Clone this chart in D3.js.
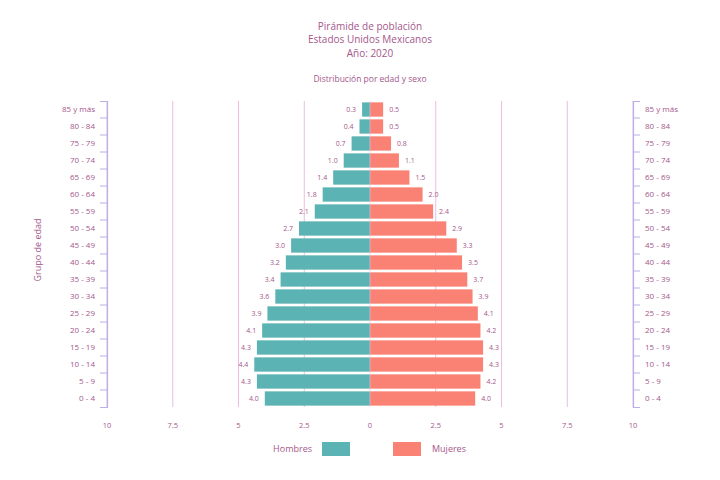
<!DOCTYPE html>
<html>
<head>
<meta charset="utf-8">
<script src="https://cdn.jsdelivr.net/npm/d3@7"></script>
<style>
  body { margin: 0; background: #fff; }
  text { font-family: "Open Sans", sans-serif; fill: #a5578a; }
</style>
</head>
<body>
<svg id="chart" width="720" height="480"></svg>
<script>
// age groups, top to bottom
const groups = ["85 y más", "80 - 84", "75 - 79", "70 - 74", "65 - 69", "60 - 64", "55 - 59",
  "50 - 54", "45 - 49", "40 - 44", "35 - 39", "30 - 34", "25 - 29", "20 - 24", "15 - 19",
  "10 - 14", "5 - 9", "0 - 4"];
const hombres = [0.3, 0.4, 0.7, 1.0, 1.4, 1.8, 2.1, 2.7, 3.0, 3.2, 3.4, 3.6, 3.9, 4.1, 4.3, 4.4, 4.3, 4.0];
const mujeres = [0.5, 0.5, 0.8, 1.1, 1.5, 2.0, 2.4, 2.9, 3.3, 3.5, 3.7, 3.9, 4.1, 4.2, 4.3, 4.3, 4.2, 4.0];
const xTicks = [-10, -7.5, -5, -2.5, 0, 2.5, 5, 7.5, 10];

const colH = "#5cb3b3", colM = "#fa8274";
const svg = d3.select("#chart");
const fmt = d3.format(".1f");

const x = d3.scaleLinear().domain([-10, 10]).range([107, 633]);
const y = d3.scaleBand().domain(groups).range([101, 407]).paddingInner(0.16).paddingOuter(0.08);

/* ------- TITLES -------*/
const titles = [["Pirámide de población", 30], ["Estados Unidos Mexicanos", 43], ["Año: 2020", 57]];
svg.selectAll("text.title").data(titles).enter().append("text")
  .attr("class", "title")
  .attr("x", 370).attr("y", d => d[1])
  .attr("text-anchor", "middle")
  .attr("font-size", 10)
  .text(d => d[0]);
svg.append("text").attr("x", 370).attr("y", 82).attr("text-anchor", "middle")
  .attr("font-size", 8.5).text("Distribución por edad y sexo");

/* ------- GRID -------*/
svg.append("g").selectAll("line").data(xTicks.filter(d => d !== 0)).enter().append("line")
  .attr("x1", d => x(d)).attr("x2", d => x(d))
  .attr("y1", 101).attr("y2", 407)
  .attr("stroke", "#ecbde0").attr("stroke-width", 1);

/* ------- BARS -------*/
const rows = groups.map((g, i) => ({ g, h: hombres[i], m: mujeres[i] }));

svg.append("g").selectAll("rect").data(rows).enter().append("rect")
  .attr("x", d => x(-d.h)).attr("width", d => x(0) - x(-d.h))
  .attr("y", d => y(d.g)).attr("height", y.bandwidth())
  .attr("fill", colH);
svg.append("g").selectAll("rect").data(rows).enter().append("rect")
  .attr("x", x(0)).attr("width", d => x(d.m) - x(0))
  .attr("y", d => y(d.g)).attr("height", y.bandwidth())
  .attr("fill", colM);

svg.append("line").attr("x1", x(0)).attr("x2", x(0)).attr("y1", 101).attr("y2", 407)
  .attr("stroke", "#ecbde0").attr("stroke-opacity", 0.6);

/* ------- VALUE LABELS -------*/
svg.append("g").selectAll("text").data(rows).enter().append("text")
  .attr("x", d => x(-d.h) - 6).attr("y", d => y(d.g) + y.bandwidth() / 2)
  .attr("dy", "0.35em").attr("text-anchor", "end").attr("font-size", 7)
  .text(d => fmt(d.h));
svg.append("g").selectAll("text").data(rows).enter().append("text")
  .attr("x", d => x(d.m) + 6).attr("y", d => y(d.g) + y.bandwidth() / 2)
  .attr("dy", "0.35em").attr("text-anchor", "start").attr("font-size", 7)
  .text(d => fmt(d.m));

/* ------- AXES -------*/
function styleAxis(g, dir) {
  g.select(".domain").attr("stroke", "#bcaee8").attr("stroke-width", 1.2);
  g.selectAll(".tick line").attr("stroke", "#bcaee8")
    .attr("transform", `translate(0,${y.step() / 2})`);
  g.selectAll(".tick text").attr("font-size", 8).attr("fill", "#a5578a")
    .attr("x", dir * 12);
  g.selectAll(".tick").filter(d => d === groups[groups.length - 1]).select("line").remove();
}
svg.append("g").attr("transform", `translate(${x(-10)},0)`)
  .call(d3.axisLeft(y).tickSize(7).tickSizeOuter(7))
  .call(g => styleAxis(g, -1));
svg.append("g").attr("transform", `translate(${x(10)},0)`)
  .call(d3.axisRight(y).tickSize(7).tickSizeOuter(7))
  .call(g => styleAxis(g, 1));

svg.append("g").selectAll("text").data(xTicks).enter().append("text")
  .attr("x", d => x(d)).attr("y", 428).attr("text-anchor", "middle")
  .attr("font-size", 7.5).text(d => Math.abs(d));

svg.append("text").attr("transform", "translate(41,250) rotate(-90)")
  .attr("text-anchor", "middle").attr("font-size", 9).text("Grupo de edad");

/* ------- LEGEND -------*/
svg.append("text").attr("x", 312).attr("y", 452).attr("text-anchor", "end")
  .attr("font-size", 9).text("Hombres");
svg.append("rect").attr("x", 322).attr("y", 442).attr("width", 28).attr("height", 14).attr("fill", colH);
svg.append("rect").attr("x", 393).attr("y", 442).attr("width", 28).attr("height", 14).attr("fill", colM);
svg.append("text").attr("x", 432).attr("y", 452).attr("font-size", 9).text("Mujeres");
</script>
</body>
</html>
